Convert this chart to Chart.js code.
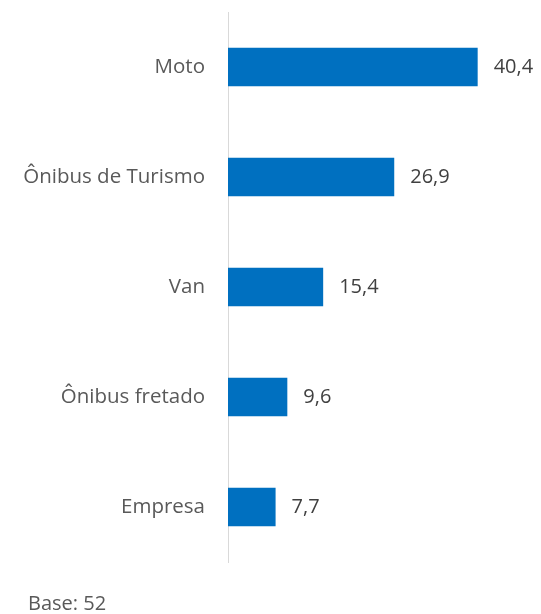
<!DOCTYPE html>
<html>
<head>
<meta charset="utf-8">
<script src="https://cdn.jsdelivr.net/npm/chart.js@4/dist/chart.umd.min.js"></script>
<style>
  html, body { margin: 0; padding: 0; background: #fff; }
  #wrap { width: 541px; height: 614px; }
</style>
</head>
<body>
<div id="wrap"><canvas id="chart" width="541" height="614"></canvas></div>
<script>
const categories = ['Moto', 'Ônibus de Turismo', 'Van', 'Ônibus fretado', 'Empresa'];
const values = [40.4, 26.9, 15.4, 9.6, 7.7];
const baseNote = 'Base: 52';

const FONT = "'Open Sans', sans-serif";

// value labels at the end of each bar + base note under the chart
const labelPlugin = {
  id: 'labels',
  afterDatasetsDraw(chart) {
    const ctx = chart.ctx;
    const meta = chart.getDatasetMeta(0);
    ctx.save();
    ctx.font = '20px ' + FONT;
    ctx.fillStyle = '#404040';
    ctx.textAlign = 'left';
    ctx.textBaseline = 'middle';
    meta.data.forEach((bar, i) => {
      ctx.fillText(values[i].toFixed(1).replace('.', ','), bar.x + 16, bar.y);
    });
    ctx.restore();
  },
  afterDraw(chart) {
    const ctx = chart.ctx;
    ctx.save();
    ctx.font = '20px ' + FONT;
    ctx.fillStyle = '#595959';
    ctx.textAlign = 'left';
    ctx.textBaseline = 'alphabetic';
    ctx.fillText(baseNote, 28, 610);
    ctx.restore();
  }
};

const ctx = document.getElementById('chart').getContext('2d');
new Chart(ctx, {
  type: 'bar',
  data: {
    labels: categories,
    datasets: [{
      data: values,
      backgroundColor: '#0070C0',
      borderWidth: 0,
      categoryPercentage: 1,
      barPercentage: 0.35
    }]
  },
  options: {
    indexAxis: 'y',
    responsive: false,
    animation: false,
    layout: { padding: { top: 12, bottom: 52, left: 0, right: 4 } },
    plugins: {
      legend: { display: false },
      tooltip: { enabled: false }
    },
    scales: {
      x: {
        display: false,
        min: 0,
        max: 50
      },
      y: {
        afterFit: (scale) => {
          scale.width = 228;
          scale.paddingTop = 0;
          scale.paddingBottom = 0;
        },
        grid: { display: false, drawTicks: false },
        border: { display: true, color: '#d9d9d9', width: 1 },
        ticks: {
          padding: 23,
          color: '#595959',
          font: { family: FONT, size: 20.5 }
        }
      }
    }
  },
  plugins: [labelPlugin]
});
</script>
</body>
</html>
